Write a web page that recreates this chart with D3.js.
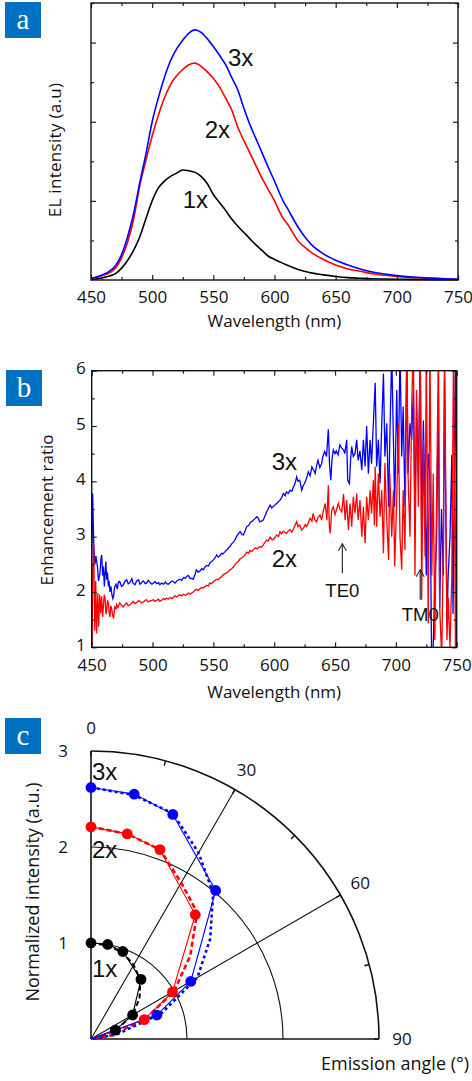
<!DOCTYPE html>
<html><head><meta charset="utf-8">
<script src="https://cdn.jsdelivr.net/npm/d3@7/dist/d3.min.js"></script>
<style>
html,body{margin:0;padding:0;background:#fff;}
svg{display:block;}
</style></head><body>
<svg id="chart" width="472" height="1081"></svg>
<script>
// ---------------- Panel a data: EL spectra ----------------
const wlA = [450,455,460,465,470,475,480,485,490,495,500,505,510,515,520,525,530,535,540,545,550,555,560,565,570,575,580,585,590,595,600,607,610,620,626,630,640,650,660,670,680,690,700,720,750];
const el3x = [0.02,0.04,0.07,0.11,0.18,0.32,0.55,0.85,1.24,1.60,2.00,2.30,2.56,2.77,2.92,3.03,3.12,3.16,3.13,3.05,2.95,2.84,2.72,2.56,2.40,2.17,1.96,1.78,1.60,1.42,1.25,1.00,0.92,0.65,0.52,0.45,0.33,0.25,0.19,0.14,0.10,0.075,0.055,0.03,0.01];
const el2x = [0.015,0.035,0.06,0.09,0.15,0.28,0.48,0.78,1.20,1.52,1.82,2.08,2.30,2.47,2.58,2.66,2.72,2.74,2.70,2.63,2.55,2.44,2.30,2.15,1.93,1.76,1.60,1.44,1.28,1.14,1.00,0.78,0.72,0.48,0.40,0.35,0.26,0.19,0.14,0.11,0.08,0.06,0.045,0.025,0.01];
const el1x = [0.005,0.015,0.03,0.05,0.08,0.15,0.25,0.38,0.55,0.78,1.00,1.16,1.25,1.31,1.35,1.39,1.38,1.36,1.31,1.22,1.08,0.98,0.88,0.77,0.68,0.60,0.52,0.44,0.37,0.30,0.26,0.21,0.19,0.13,0.105,0.09,0.065,0.045,0.03,0.022,0.015,0.012,0.01,0.006,0.003];
const wlTicks = [450,500,550,600,650,700,750];
const wlMinor = [475,525,575,625,675,725];
const elMajor = [1,2,3];
const elMinor = [0.5,1.5,2.5,3.5];

// ---------------- Panel b data: enhancement ratio ----------------
const wlB3 = [450.0,450.8,451.6,452.7,453.5,454.7,455.6,456.8,457.6,458.2,459.0,459.6,460.4,461.0,461.6,462.3,463.0,463.7,464.3,465.0,465.8,466.6,467.4,468.0,468.6,469.0,470.0,471.0,472.0,473.0,474.5,476.0,477.5,478.8,480.0,481.5,483.0,484.0,485.5,487.0,488.5,489.7,491.0,492.5,494.0,495.0,496.5,498.0,499.5,500.7,502.0,503.5,505.0,506.0,507.5,509.0,510.5,511.6,513.0,514.5,516.0,517.0,518.5,520.0,521.5,522.6,524.0,525.5,527.0,528.0,529.5,531.0,532.0,533.5,535.0,536.0,537.5,539.0,540.5,541.8,543.0,544.5,546.0,547.0,548.5,550.0,551.5,552.7,554.0,555.5,557.0,558.0,559.5,561.0,562.5,563.7,565.0,566.5,568.0,569.0,570.5,572.0,573.5,574.7,576.0,577.4,579.0,580.5,582.0,583.0,584.5,585.6,587.0,588.0,589.5,591.0,592.5,593.8,595.0,596.6,598.0,599.0,600.5,602.0,603.5,604.8,606.0,607.5,609.0,610.0,611.5,613.0,614.5,615.8,617.0,618.5,619.5,621.0,622.6,624.0,625.0,626.5,628.0,629.5,631.0,632.5,633.7,635.0,636.0,637.5,639.0,640.0,641.5,643.0,644.5,645.5,646.5,647.5,648.6,650.0,651.0,652.5,654.0,655.5,657.0,658.0,659.6,660.4,661.8,662.8,663.7,665.0,666.4,667.8,669.0,670.5,672.0,673.3,674.7,676.0,677.4,678.8,680.0,681.5,683.0,684.2,685.6,687.0,688.4,689.8,691.0,692.5,694.0,695.0,696.6,698.0,699.0,700.7,702.0,703.4,704.8,706.0,707.5,709.0,710.0,711.6,713.0,714.4,715.7,717.0,718.5,720.0,721.2,722.6,724.0,725.0,726.5,728.0,729.5,730.7,732.0,733.4,735.0,736.0,737.5,739.0,740.0,742.0,743.0,744.5,746.0,747.0,749.0,750.0];
const enh3x = [2.6,3.78,2.9,2.5,2.65,2.46,2.2,2.34,2.6,2.67,2.3,2.46,2.1,2.34,2.55,2.22,2.35,2.1,2.2,2.0,2.1,1.95,1.88,1.92,2.05,2.1,2.14,2.05,2.18,2.19,2.1,2.13,2.2,2.22,2.15,2.17,2.24,2.16,2.13,2.2,2.22,2.14,2.17,2.2,2.15,2.16,2.21,2.17,2.14,2.16,2.19,2.15,2.17,2.13,2.16,2.14,2.18,2.15,2.14,2.17,2.2,2.19,2.16,2.2,2.22,2.23,2.21,2.26,2.25,2.28,2.3,2.24,2.25,2.23,2.32,2.4,2.36,2.38,2.42,2.4,2.45,2.48,2.47,2.52,2.55,2.58,2.62,2.67,2.63,2.66,2.7,2.69,2.73,2.76,2.8,2.82,2.87,2.9,2.95,3.0,3.05,3.09,3.04,3.03,3.1,3.18,3.2,3.26,3.28,3.3,3.33,3.36,3.33,3.27,3.28,3.3,3.38,3.45,3.5,3.57,3.52,3.54,3.57,3.6,3.63,3.66,3.7,3.78,3.74,3.81,3.78,3.84,3.82,3.9,3.95,4.08,4.0,4.02,3.84,3.93,3.96,4.05,4.17,4.1,4.26,4.2,4.14,4.3,4.38,4.25,4.32,4.45,4.54,4.45,4.94,4.3,4.02,4.4,4.57,4.5,4.55,4.48,4.66,4.6,4.57,4.5,4.75,4.02,3.96,4.4,4.63,4.45,4.5,4.75,4.38,4.55,4.2,4.75,4.27,5.0,4.14,4.75,4.32,5.05,5.78,4.27,4.75,3.96,5.05,5.95,4.45,5.05,3.54,4.75,6.3,4.75,3.54,5.65,4.14,6.4,4.45,5.35,3.54,6.5,4.14,5.05,4.75,5.65,3.3,5.35,4.14,6.4,3.2,5.1,3.6,2.3,4.5,4.14,0.5,1.0,2.2,2.9,5.6,1.7,3.5,2.3,5.85,1.4,2.3,3.0,4.48,1.6,6.5,2.0];
const wlB2 = [450.0,450.4,450.8,451.6,452.5,453.3,454.0,455.0,455.7,456.6,457.4,458.2,459.0,459.6,460.3,461.0,461.7,462.3,463.0,463.7,464.4,465.0,465.7,466.4,467.2,468.0,468.6,469.0,470.0,470.5,471.5,473.0,474.5,476.0,477.5,478.8,480.0,481.5,483.0,484.0,485.5,487.0,488.5,489.7,491.0,492.5,494.0,495.0,496.5,498.0,499.5,500.7,502.0,503.5,505.0,506.0,507.5,509.0,510.5,511.6,513.0,514.5,516.0,517.0,518.5,520.0,521.5,522.6,524.0,525.5,527.0,528.0,529.5,531.0,532.0,533.5,535.0,536.0,537.5,539.0,540.5,541.8,543.0,544.5,546.0,547.0,548.5,550.0,551.5,552.7,554.0,555.5,557.0,558.0,559.5,561.0,562.5,563.7,565.0,566.5,568.0,569.0,570.5,572.0,573.5,574.7,576.0,577.4,579.0,580.0,581.5,583.0,584.5,586.0,588.0,589.5,591.0,592.5,593.8,595.0,596.6,598.0,599.0,600.5,602.0,603.5,604.8,606.0,607.5,609.0,610.0,611.5,613.0,614.5,615.8,617.0,618.5,619.5,621.0,622.5,624.0,625.5,626.7,628.0,629.5,631.0,632.0,633.5,634.9,636.0,637.7,639.0,640.5,641.9,643.3,644.5,645.3,646.0,647.3,648.6,650.0,651.4,652.7,654.0,655.5,657.0,658.3,659.6,661.0,662.3,663.7,665.0,666.4,667.8,669.0,670.5,672.0,673.3,674.7,676.0,677.4,678.8,680.0,681.5,682.3,683.0,684.2,685.6,687.0,688.4,689.8,691.0,692.5,694.0,695.0,696.6,698.0,699.0,700.7,702.0,703.4,704.8,706.0,707.5,709.0,710.0,711.6,713.0,714.4,715.7,717.0,718.5,720.0,721.2,722.6,724.0,725.0,726.6,728.0,729.5,730.7,732.0,733.4,735.0,736.0,737.7,739.0,740.0,742.0,743.0,744.5,746.0,747.4,749.0,750.0];
const enh2x = [1.0,1.13,2.34,2.88,1.3,2.2,1.25,1.98,1.37,1.95,1.61,1.92,1.55,1.73,1.95,1.89,1.6,1.67,1.85,1.8,1.62,1.55,1.75,1.7,1.58,1.52,1.65,1.73,1.7,1.77,1.72,1.8,1.76,1.73,1.78,1.8,1.75,1.77,1.8,1.83,1.79,1.81,1.84,1.83,1.8,1.82,1.85,1.86,1.82,1.84,1.85,1.86,1.83,1.85,1.87,1.83,1.85,1.88,1.86,1.89,1.87,1.9,1.88,1.9,1.93,1.91,1.94,1.95,1.93,1.96,1.94,1.95,1.98,1.96,1.98,2.0,2.03,2.05,2.03,2.06,2.08,2.07,2.1,2.12,2.11,2.16,2.15,2.19,2.21,2.23,2.22,2.26,2.28,2.31,2.33,2.35,2.37,2.4,2.42,2.45,2.5,2.53,2.55,2.6,2.62,2.64,2.67,2.72,2.7,2.75,2.73,2.77,2.8,2.78,2.82,2.81,2.85,2.9,2.94,2.92,2.99,2.95,2.94,2.98,3.03,3.0,3.09,3.05,3.1,3.07,3.06,3.1,3.13,3.08,3.14,3.2,3.27,3.18,3.21,3.12,3.15,3.22,3.18,3.25,3.33,3.28,3.42,3.3,3.27,3.35,3.39,3.3,3.48,3.6,3.3,3.93,3.2,3.06,3.48,3.54,3.4,3.5,3.6,3.5,3.45,3.77,3.3,3.66,3.12,3.6,3.18,3.72,3.42,3.78,3.3,3.66,3.0,3.54,2.88,3.72,3.3,3.84,3.42,4.02,3.2,4.27,3.18,4.14,3.36,3.84,2.7,4.33,3.3,2.58,4.14,3.0,3.84,2.46,3.66,5.05,3.0,2.4,3.84,2.76,6.4,4.14,3.0,5.35,6.5,2.3,5.65,3.54,6.5,1.86,4.75,2.64,6.5,1.43,6.5,2.3,4.14,1.13,3.54,6.5,1.73,0.8,2.94,6.5,1.13,1.9,1.0,2.3,6.5,0.8,6.5];
const enhMajor = [1,2,3,4,5,6];
const enhMinor = [1.5,2.5,3.5,4.5,5.5];

// ---------------- Panel c data: angular emission ----------------
const angMeas = [0,10,20,40,60,70,90];
const meas3x = [2.62,2.59,2.49,2.02,1.20,0.73,0];
const meas2x = [2.21,2.17,2.10,1.69,0.98,0.59,0];
const meas1x = [1.00,1.00,0.97,0.81,0.50,0.27,0];
const angSim = [0,10,20,30,40,50,60,70,80,90];
const sim3x = [2.62,2.58,2.50,2.24,1.98,1.62,1.28,0.78,0.27,0];
const sim2x = [2.21,2.17,2.10,1.88,1.72,1.35,1.00,0.60,0.20,0];
const sim1x = [1.00,0.99,0.96,0.89,0.80,0.66,0.50,0.28,0.08,0];
const radTicks = [1,2,3];
const angLabels = [0,30,60,90];

// ---------------- drawing ----------------
const svg = d3.select('#chart');
const FONT = "'Open Sans', 'Noto Sans', sans-serif";
const LFONT = "'Liberation Sans', Arial, sans-serif";
const BLUE = '#0000ff', RED = '#ff0000', BLACK = '#000000', BOX = '#0070c0';

function panelLabel(x, y, t) {
  svg.append('rect').attr('x', x).attr('y', y).attr('width', 36).attr('height', 36).attr('fill', BOX);
  svg.append('text').attr('x', x + 18).attr('y', y + 27).attr('text-anchor', 'middle')
    .attr('fill', '#fff').style('font-family', "'Liberation Serif','DejaVu Serif',serif").style('font-size', '29px').text(t);
}

function frameAxes(xs, ys, xMaj, xMin, yMaj, yMin, showYLabels, xPad, yDy) {
  const [x0, x1] = xs.range(), [y0, y1] = ys.range(); // y0 bottom
  const g = svg.append('g');
  const gb = g.append('g').attr('transform', `translate(0,${y0})`)
    .call(d3.axisBottom(xs).tickValues(xMaj).tickSize(-5).tickPadding(xPad).tickFormat(d3.format('d')));
  gb.call(a => a.select('.domain').remove());
  gb.selectAll('text').style('font-family', FONT).style('font-size', '17px').attr('fill', '#111');
  g.append('g').attr('transform', `translate(0,${y0})`)
    .call(d3.axisBottom(xs).tickValues(xMin).tickSize(-3).tickFormat(''))
    .call(a => a.select('.domain').remove());
  g.append('g').attr('transform', `translate(0,${y1})`)
    .call(d3.axisTop(xs).tickValues(xMaj).tickSize(-5).tickFormat(''))
    .call(a => a.select('.domain').remove());
  g.append('g').attr('transform', `translate(0,${y1})`)
    .call(d3.axisTop(xs).tickValues(xMin).tickSize(-3).tickFormat(''))
    .call(a => a.select('.domain').remove());
  const gl = g.append('g').attr('transform', `translate(${x0},0)`)
    .call(d3.axisLeft(ys).tickValues(yMaj).tickSize(-5).tickPadding(6)
      .tickFormat(showYLabels ? d3.format('d') : ''));
  gl.call(a => a.select('.domain').remove());
  gl.selectAll('text').style('font-family', FONT).style('font-size', '17px').attr('fill', '#111').attr('dy', yDy);
  g.append('g').attr('transform', `translate(${x0},0)`)
    .call(d3.axisLeft(ys).tickValues(yMin).tickSize(-3).tickFormat(''))
    .call(a => a.select('.domain').remove());
  g.append('g').attr('transform', `translate(${x1},0)`)
    .call(d3.axisRight(ys).tickValues(yMaj).tickSize(-5).tickFormat(''))
    .call(a => a.select('.domain').remove());
  g.append('g').attr('transform', `translate(${x1},0)`)
    .call(d3.axisRight(ys).tickValues(yMin).tickSize(-3).tickFormat(''))
    .call(a => a.select('.domain').remove());
  g.selectAll('line').attr('stroke', '#222').attr('stroke-width', 1.2);
  g.append('rect').attr('x', x0).attr('y', y1).attr('width', x1 - x0).attr('height', y0 - y1)
    .attr('fill', 'none').attr('stroke', '#111').attr('stroke-width', 1.4);
}

// ===== Panel a =====
panelLabel(5, 2, 'a');
const ax = d3.scaleLinear().domain([450, 750]).range([91, 458]);
const ay = d3.scaleLinear().domain([0, 3.5]).range([280, 3]);
const lineA = arr => d3.line().x((d, i) => ax(wlA[i])).y(d => ay(d)).curve(d3.curveMonotoneX)(arr);
[[el1x, BLACK], [el2x, RED], [el3x, BLUE]].forEach(([arr, c]) => {
  svg.append('path').attr('d', lineA(arr)).attr('fill', 'none').attr('stroke', c).attr('stroke-width', 1.6);
});
frameAxes(ax, ay, wlTicks, wlMinor, elMajor, elMinor, false, 10.5, '0.3em');
const bigLbl = (x, y, t) => svg.append('text').attr('x', x).attr('y', y)
  .style('font-family', LFONT).style('font-size', '24px').attr('fill', '#111').text(t);
bigLbl(ax(562), ay(2.71), '3x');
bigLbl(ax(543), ay(1.80), '2x');
bigLbl(ax(525), ay(0.91), '1x');
svg.append('text').attr('x', (ax(450) + ax(750)) / 2).attr('y', 327).attr('text-anchor', 'middle')
  .style('font-family', FONT).style('font-size', '17px').attr('fill', '#111').text('Wavelength (nm)');
svg.append('text').attr('transform', 'translate(55,150) rotate(-90)').attr('text-anchor', 'middle').attr('dy', '0.35em')
  .style('font-family', FONT).style('font-size', '17px').style('letter-spacing', '0.3px').attr('fill', '#111').text('EL intensity  (a.u)');

// ===== Panel b =====
panelLabel(6, 370, 'b');
const bx = d3.scaleLinear().domain([450, 750]).range([91.7, 456.7]);
const by = d3.scaleLinear().domain([1, 6]).range([647.3, 370.7]);
svg.append('clipPath').attr('id', 'clipB').append('rect')
  .attr('x', 91.7).attr('y', 370.7).attr('width', 365).attr('height', 276.6);
const gB = svg.append('g').attr('clip-path', 'url(#clipB)');
gB.append('path').attr('d', d3.line().x((d, i) => bx(wlB3[i])).y(d => by(d))(enh3x))
  .attr('fill', 'none').attr('stroke', BLUE).attr('stroke-width', 1.3);
gB.append('path').attr('d', d3.line().x((d, i) => bx(wlB2[i])).y(d => by(d))(enh2x))
  .attr('fill', 'none').attr('stroke', RED).attr('stroke-width', 1.3);
frameAxes(bx, by, wlTicks, wlMinor, enhMajor, enhMinor, true, 11.5, '0.18em');
bigLbl(bx(598), by(4.21), '3x');
bigLbl(bx(598), by(2.45), '2x');
function arrow(wl, vTip, vBase, label, vLabel) {
  const x = bx(wl), yt = by(vTip), yb = by(vBase);
  svg.append('line').attr('x1', x).attr('x2', x).attr('y1', yt).attr('y2', yb).attr('stroke', '#222').attr('stroke-width', 1.1);
  svg.append('path').attr('d', `M${x - 4},${yt + 7}L${x},${yt}L${x + 4},${yt + 7}`).attr('fill', 'none').attr('stroke', '#222').attr('stroke-width', 1.1);
  svg.append('text').attr('x', x).attr('y', by(vLabel)).attr('text-anchor', 'middle')
    .style('font-family', LFONT).style('font-size', '18.5px').attr('fill', '#111').text(label);
}
arrow(656, 2.87, 2.34, 'TE0', 1.91);
arrow(720, 2.40, 1.86, 'TM0', 1.48);
svg.append('text').attr('x', (bx(450) + bx(750)) / 2).attr('y', 698).attr('text-anchor', 'middle')
  .style('font-family', FONT).style('font-size', '17px').attr('fill', '#111').text('Wavelength (nm)');
svg.append('text').attr('transform', 'translate(47,510) rotate(-90)').attr('text-anchor', 'middle').attr('dy', '0.35em')
  .style('font-family', FONT).style('font-size', '17px').attr('fill', '#111').text('Enhancement ratio');

// ===== Panel c =====
panelLabel(5, 718, 'c');
const cx = 91, cy = 1039;
const rs = d3.scaleLinear().domain([0, 3]).range([0, 288]);
const toRad = d => d * Math.PI / 180;
const gC = svg.append('g').attr('transform', `translate(${cx},${cy})`);
const arc = d3.arc().startAngle(0).endAngle(Math.PI / 2);
radTicks.forEach(r => {
  gC.append('path').attr('d', arc({ innerRadius: rs(r), outerRadius: rs(r) })).attr('fill', 'none')
    .attr('stroke', '#111').attr('stroke-width', r === 3 ? 1.6 : 1.1);
});
[30, 60].forEach(a => {
  const p = d3.pointRadial(toRad(a), rs(3));
  gC.append('line').attr('x1', 0).attr('y1', 0).attr('x2', p[0]).attr('y2', p[1]).attr('stroke', '#111').attr('stroke-width', 1.1);
});
d3.range(0, 91, 15).forEach(a => {
  const p1 = d3.pointRadial(toRad(a), rs(3)), p2 = d3.pointRadial(toRad(a), rs(3) - 5);
  gC.append('line').attr('x1', p1[0]).attr('y1', p1[1]).attr('x2', p2[0]).attr('y2', p2[1]).attr('stroke', '#111').attr('stroke-width', 1.4);
});
gC.append('line').attr('x1', 0).attr('y1', 0).attr('x2', 0).attr('y2', -rs(3)).attr('stroke', '#111').attr('stroke-width', 1.6);
gC.append('line').attr('x1', 0).attr('y1', 0).attr('x2', rs(3)).attr('y2', 0).attr('stroke', '#111').attr('stroke-width', 1.6);
const ryScale = d3.scaleLinear().domain([0, 3]).range([cy, cy - 288]);
const gRy = svg.append('g').attr('transform', `translate(${cx},0)`)
  .call(d3.axisLeft(ryScale).tickValues(radTicks).tickSize(0).tickPadding(23).tickFormat(d3.format('d')));
gRy.select('.domain').remove();
gRy.selectAll('text').style('font-family', FONT).style('font-size', '17px').attr('fill', '#111');
angLabels.forEach(a => {
  const p = d3.pointRadial(toRad(a), 311);
  gC.append('text').attr('x', p[0]).attr('y', p[1]).attr('dy', '0.35em').attr('text-anchor', 'middle')
    .style('font-family', FONT).style('font-size', '17px').attr('fill', '#111').text(a);
});
const radial = (angs) => d3.lineRadial().angle((d, i) => toRad(angs[i])).radius(d => rs(d));
const series = [
  [meas1x, sim1x, BLACK, '5,3', 2.0],
  [meas2x, sim2x, RED, '5,3', 2.6],
  [meas3x, sim3x, BLUE, '3,3', 2.6]
];
series.forEach(([m, s, c, dash, w]) => {
  gC.append('path').attr('d', radial(angSim)(s)).attr('fill', 'none').attr('stroke', c)
    .attr('stroke-width', w).attr('stroke-dasharray', dash);
  gC.append('path').attr('d', radial(angMeas)(m)).attr('fill', 'none').attr('stroke', c).attr('stroke-width', 1.1);
});
series.forEach(([m, s, c]) => {
  m.forEach((v, i) => {
    if (v <= 0) return;
    const p = d3.pointRadial(toRad(angMeas[i]), rs(v));
    gC.append('circle').attr('cx', p[0]).attr('cy', p[1]).attr('r', 5.4).attr('fill', c);
  });
});
const lblC = (r, t) => svg.append('text').attr('x', cx + 1).attr('y', ryScale(r))
  .style('font-family', LFONT).style('font-size', '24px').attr('fill', '#111').text(t);
lblC(2.70, '3x');
lblC(1.885, '2x');
lblC(0.646, '1x');
svg.append('text').attr('transform', 'translate(33,892) rotate(-90)').attr('text-anchor', 'middle').attr('dy', '0.35em')
  .style('font-family', FONT).style('font-size', '18px').attr('fill', '#111').text('Normalized intensity (a.u.)');
svg.append('text').attr('x', 469).attr('y', 1070).attr('text-anchor', 'end')
  .style('font-family', FONT).style('font-size', '18px').attr('fill', '#111').text('Emission angle (°)');
</script>
</body></html>
